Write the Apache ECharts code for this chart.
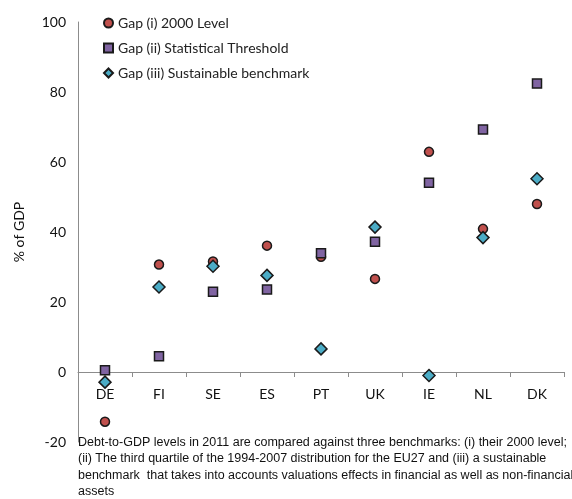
<!DOCTYPE html>
<html>
<head>
<meta charset="utf-8">
<script src="https://cdn.jsdelivr.net/npm/echarts@6/dist/echarts.min.js"></script>
<style>
  html, body { margin: 0; padding: 0; background: #fff; }
  #chart { width: 572px; height: 499px; }
</style>
</head>
<body>
<div id="chart"></div>
<script>
// Countries on the category axis
const countries = ['DE', 'FI', 'SE', 'ES', 'PT', 'UK', 'IE', 'NL', 'DK'];

// Debt gap (% of GDP) against each benchmark
const gap2000Level = [-14.2, 30.7, 31.6, 36.1, 32.9, 26.6, 62.9, 40.9, 48.0];
const gapStatThreshold = [0.5, 4.5, 22.9, 23.6, 33.9, 37.2, 54.1, 69.3, 82.4];
const gapSustainable = [-2.9, 24.3, 30.2, 27.6, 6.6, 41.4, -1.0, 38.4, 55.2];

const seriesNames = [
  'Gap (i) 2000 Level',
  'Gap (ii) Statistical Threshold',
  'Gap (iii) Sustainable benchmark'
];

const yTicks = { min: -20, max: 100, interval: 20 };

const footnoteLines = [
  'Debt-to-GDP levels in 2011 are compared against three benchmarks: (i) their 2000 level;',
  '(ii) The third quartile of the 1994-2007 distribution for the EU27 and (iii) a sustainable',
  'benchmark  that takes into accounts valuations effects in financial as well as non-financial',
  'assets'
];

const chart = echarts.init(document.getElementById('chart'), null, { renderer: 'canvas' });

const tickFont = 'Lato, "Open Sans", sans-serif';

// Grid geometry: the category axis sits on the zero line of the value axis
const gridTop = 22;
const gridBottom = 57;
const plotHeight = 499 - gridTop - gridBottom;
const zeroOffset = plotHeight * (0 - yTicks.min) / (yTicks.max - yTicks.min);

function scatter(name, values, symbol, size, color) {
  return {
    name: name,
    type: 'scatter',
    symbol: symbol,
    symbolSize: size,
    itemStyle: { color: color, borderColor: '#1a1a1a', borderWidth: 1.5, opacity: 1 },
    data: values.map((v, i) => [countries[i], v])
  };
}

chart.setOption({
  animation: false,
  grid: { left: 78, right: 8, top: gridTop, bottom: gridBottom },
  legend: {
    orient: 'vertical',
    left: 98,
    top: 11,
    itemWidth: 9,
    itemHeight: 9,
    itemGap: 11,
    textStyle: { fontFamily: tickFont, fontSize: 14, color: '#222' },
    data: [
      { name: seriesNames[0], icon: 'circle' },
      { name: seriesNames[1], icon: 'rect' },
      { name: seriesNames[2], icon: 'diamond' }
    ]
  },
  xAxis: {
    type: 'category',
    data: countries,
    boundaryGap: true,
    offset: -zeroOffset,
    axisLine: { onZero: false, lineStyle: { color: '#8c8c8c', width: 1 } },
    axisTick: { show: true, length: 5, inside: false, lineStyle: { color: '#8c8c8c' } },
    axisLabel: { margin: 15, fontFamily: tickFont, fontSize: 14, color: '#111' },
    splitLine: { show: false }
  },
  yAxis: {
    type: 'value',
    min: yTicks.min,
    max: yTicks.max,
    interval: yTicks.interval,
    name: '% of GDP',
    nameLocation: 'middle',
    nameRotate: 90,
    nameGap: 52,
    nameTextStyle: { fontFamily: tickFont, fontSize: 14, color: '#111' },
    axisLine: { show: true, lineStyle: { color: '#8c8c8c', width: 1 } },
    axisTick: { show: false },
    axisLabel: { margin: 12, fontFamily: tickFont, fontSize: 14, color: '#111' },
    splitLine: { show: false }
  },
  series: [
    scatter(seriesNames[0], gap2000Level, 'circle', 9, '#C0504D'),
    scatter(seriesNames[1], gapStatThreshold, 'rect', 9, '#8064A2'),
    scatter(seriesNames[2], gapSustainable, 'diamond', 12, '#4BACC6')
  ],
  graphic: [{
    type: 'text',
    left: 78,
    top: 434,
    style: {
      text: footnoteLines.join('\n'),
      font: '12.5px "Liberation Sans", Arial, sans-serif',
      lineHeight: 16.5,
      fill: '#111'
    }
  }]
});
</script>
</body>
</html>
